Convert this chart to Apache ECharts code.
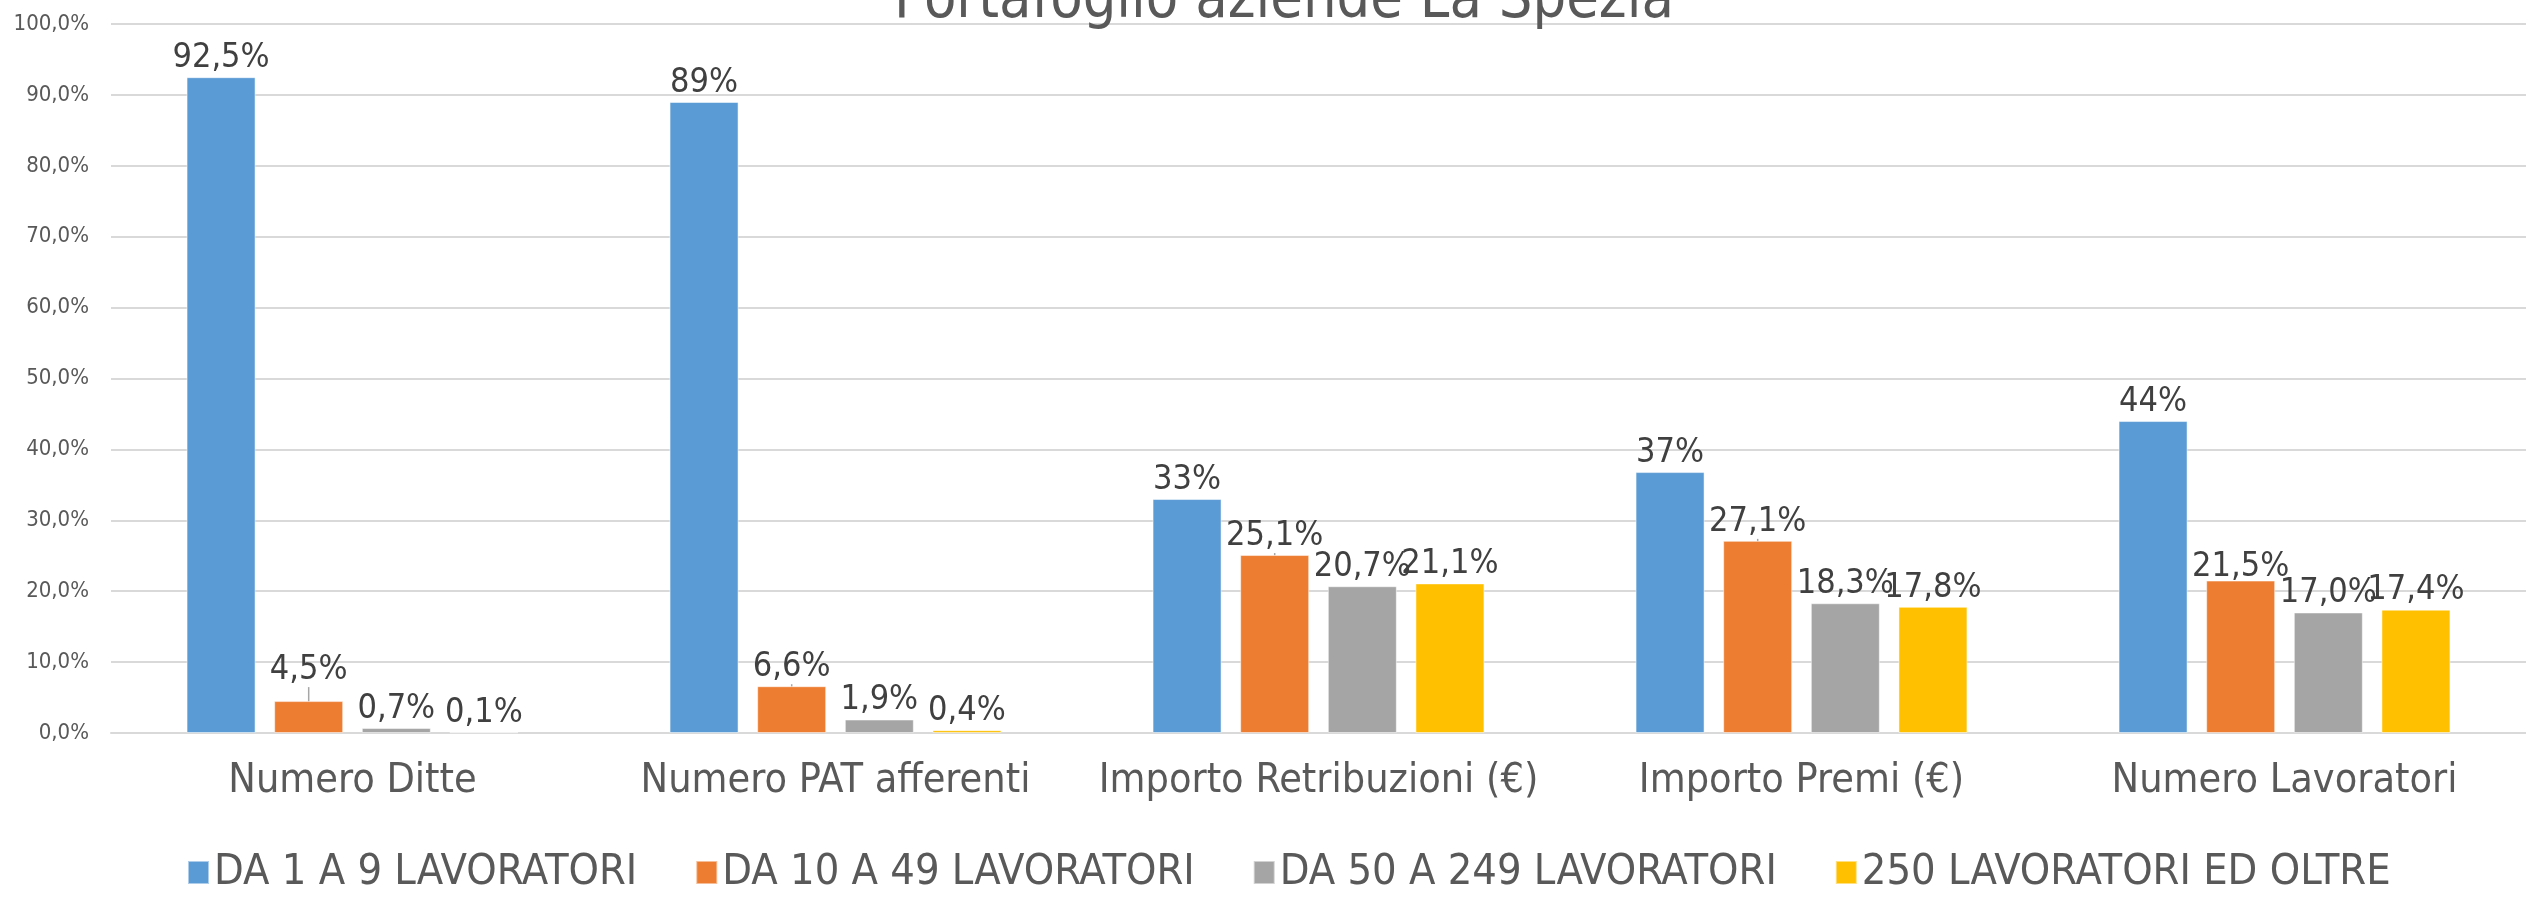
<!DOCTYPE html>
<html>
<head>
<meta charset="utf-8">
<script src="https://cdn.jsdelivr.net/npm/echarts@6/dist/echarts.min.js"></script>
<style>
  html, body { margin: 0; padding: 0; background: #fff; }
  #chart { width: 2526px; height: 901px; }
</style>
</head>
<body>
<div id="chart"></div>
<script>
// categories and series
var categories = ["Numero Ditte", "Numero PAT afferenti", "Importo Retribuzioni (€)", "Importo Premi (€)", "Numero Lavoratori"];
var seriesNames = ["DA 1 A 9 LAVORATORI", "DA 10 A 49 LAVORATORI", "DA 50 A 249 LAVORATORI", "250 LAVORATORI ED OLTRE"];

var da1a9 = [92.5, 89, 33, 36.8, 44];
var da10a49 = [4.5, 6.6, 25.1, 27.1, 21.5];
var da50a249 = [0.7, 1.9, 20.7, 18.3, 17.0];
var oltre250 = [0.1, 0.4, 21.1, 17.8, 17.4];

// data label texts as shown on the chart
var labels1a9 = ["92,5%", "89%", "33%", "37%", "44%"];
var labels10a49 = ["4,5%", "6,6%", "25,1%", "27,1%", "21,5%"];
var labels50a249 = ["0,7%", "1,9%", "20,7%", "18,3%", "17,0%"];
var labelsOltre = ["0,1%", "0,4%", "21,1%", "17,8%", "17,4%"];

var colors = ["#5B9BD5", "#ED7D31", "#A5A5A5", "#FFC000"];
var font = "DejaVu Sans Condensed, DejaVu Sans, sans-serif";

function makeSeries(idx, values, texts) {
  return {
    name: seriesNames[idx],
    type: "bar",
    barWidth: 69,
    barGap: "27%",
    data: values,
    itemStyle: { color: colors[idx], borderColor: "rgba(255,255,255,0.5)", borderWidth: 1 },
    label: {
      show: true,
      position: "top",
      distance: 2,
      color: "#404040",
      fontFamily: font,
      fontSize: 34,
      formatter: function (p) {
        return texts[p.dataIndex];
      }
    },
    animation: false
  };
}

var chart = echarts.init(document.getElementById("chart"));
var series = [
  makeSeries(0, da1a9, labels1a9),
  makeSeries(1, da10a49, labels10a49),
  makeSeries(2, da50a249, labels50a249),
  makeSeries(3, oltre250, labelsOltre)
];
// the 4,5% label sits a bit higher with a leader line, 21,5% sits lower
series[1].labelLayout = function (p) {
  if (p.dataIndex === 0) return { dy: -12 };
  if (p.dataIndex === 4) return { dy: 6 };
  return {};
};
series[1].labelLine = { show: true, lineStyle: { color: "#a6a6a6", width: 1.5 } };

chart.setOption({
  title: {
    text: "Portafoglio aziende La Spezia",
    left: 889,
    top: -33,
    textStyle: { fontFamily: font, fontSize: 59, fontWeight: "normal", color: "#595959" }
  },
  legend: {
    data: seriesNames,
    bottom: 2,
    left: 182,
    icon: "rect",
    itemWidth: 21,
    itemHeight: 23,
    itemGap: 58,
    textStyle: { fontFamily: font, fontSize: 43, color: "#595959" }
  },
  grid: {
    left: 111,
    right: 0,
    top: 24,
    bottom: 168
  },
  xAxis: {
    type: "category",
    data: categories,
    axisTick: { show: false },
    axisLine: { lineStyle: { color: "#d9d9d9", width: 2 } },
    axisLabel: { interval: 0, fontFamily: font, fontSize: 41, color: "#595959", margin: 28 }
  },
  yAxis: {
    type: "value",
    min: 0,
    max: 100,
    interval: 10,
    axisLine: { show: false },
    axisTick: { show: false },
    splitLine: { lineStyle: { color: "#d9d9d9", width: 2 } },
    axisLabel: {
      fontFamily: font,
      fontSize: 22,
      color: "#595959",
      margin: 22,
      formatter: function (v) {
        return v.toFixed(1).replace(".", ",") + "%";
      }
    }
  },
  series: series
});
</script>
</body>
</html>
